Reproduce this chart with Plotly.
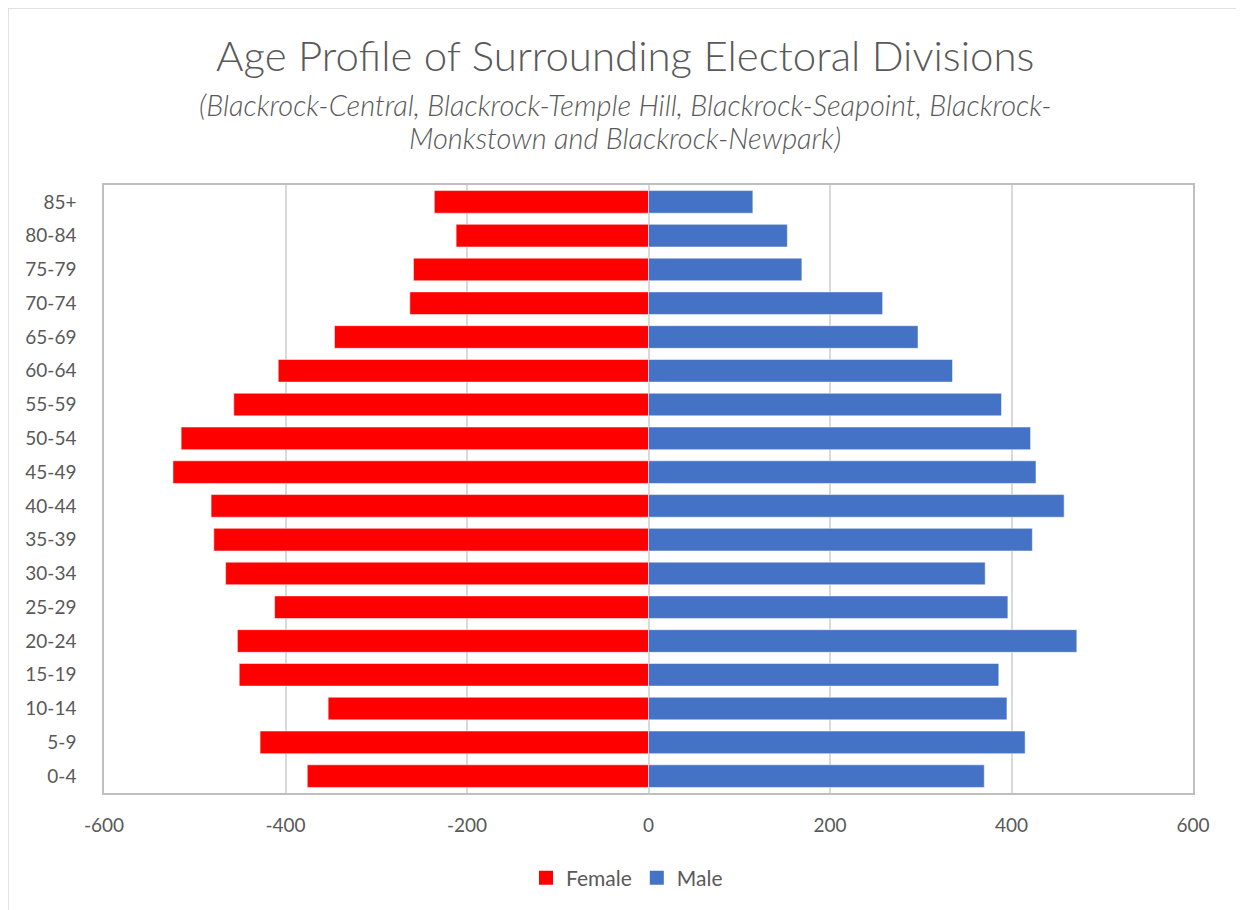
import plotly.graph_objects as go

age_groups = ["0-4", "5-9", "10-14", "15-19", "20-24", "25-29", "30-34", "35-39",
              "40-44", "45-49", "50-54", "55-59", "60-64", "65-69", "70-74",
              "75-79", "80-84", "85+"]
female = [376, 428, 353, 451, 453, 412, 466, 479, 482, 524, 515, 457, 408, 346,
          263, 259, 212, 236]
male = [370, 415, 395, 386, 472, 396, 371, 423, 458, 427, 421, 389, 335, 297,
        258, 169, 153, 115]
x_ticks = [-600, -400, -200, 0, 200, 400, 600]

FONT = "Lato"
GREY = "#595959"
RED = "#FF0000"
BLUE = "#4472C4"

OFF = 8  # page body margin
W, H = 1236, 902
pl, pr, pt, pb = 104 - OFF, 1193 - OFF, 185 - OFF, 793 - OFF
pw, ph = pr - pl, pb - pt


def px_x(x):
    return (x - OFF - pl) / pw


def px_y(y):
    return (pb - (y - OFF)) / ph


fig = go.Figure()
fig.add_trace(go.Bar(
    y=age_groups, x=[-v for v in female], name="Female", orientation="h",
    marker=dict(color=RED, line=dict(color="rgba(255,255,255,0.5)", width=1)),
    showlegend=False,
))
fig.add_trace(go.Bar(
    y=age_groups, x=male, name="Male", orientation="h",
    marker=dict(color=BLUE, line=dict(color="rgba(255,255,255,0.5)", width=1)),
    showlegend=False,
))
# legend entries
for nm, col in [("Female", RED), ("Male", BLUE)]:
    fig.add_trace(go.Scatter(x=[None], y=[None], mode="markers", name=nm,
                             marker=dict(symbol="square", size=14, color=col),
                             showlegend=True))

fig.update_layout(
    width=W, height=H,
    margin=dict(l=pl, r=W - pr, t=pt, b=H - pb, autoexpand=False),
    paper_bgcolor="white", plot_bgcolor="white",
    barmode="overlay", bargap=0.33,
    font=dict(family=FONT, color=GREY, size=18),
    showlegend=True,
    legend=dict(orientation="h", x=px_x(627), xanchor="center", y=px_y(878), yanchor="middle",
                font=dict(size=21, color=GREY), itemsizing="trace",
                traceorder="normal", tracegroupgap=0),
    xaxis=dict(range=[-600, 600], tickvals=x_ticks, ticktext=[str(v) for v in x_ticks],
               showgrid=True, gridcolor="#D9D9D9", gridwidth=1.5,
               zeroline=True, zerolinecolor="#D9D9D9", zerolinewidth=1.5,
               showline=True, linecolor="#BFBFBF", linewidth=1.5, mirror=True,
               ticks="", tickfont=dict(size=19, color=GREY), ticklabelstandoff=14),
    yaxis=dict(categoryorder="array", categoryarray=age_groups,
               showgrid=False, zeroline=False,
               showline=True, linecolor="#BFBFBF", linewidth=1.5, mirror=True,
               ticks="", tickfont=dict(size=19, color=GREY), ticklabelstandoff=22),
)

fig.add_annotation(text="Age Profile of Surrounding Electoral Divisions",
                   xref="paper", yref="paper", x=px_x(625), y=px_y(55),
                   xanchor="center", yanchor="middle", showarrow=False,
                   font=dict(family=FONT, size=42, color=GREY, weight=300))
fig.add_annotation(text="<i>(Blackrock-Central, Blackrock-Temple Hill, Blackrock-Seapoint, Blackrock-</i>",
                   xref="paper", yref="paper", x=px_x(625), y=px_y(104),
                   xanchor="center", yanchor="middle", showarrow=False,
                   font=dict(family=FONT, size=29, color=GREY, weight=300))
fig.add_annotation(text="<i>Monkstown and Blackrock-Newpark)</i>",
                   xref="paper", yref="paper", x=px_x(625), y=px_y(137),
                   xanchor="center", yanchor="middle", showarrow=False,
                   font=dict(family=FONT, size=29, color=GREY, weight=300))

# chart-area border
fig.add_shape(type="rect", xref="paper", yref="paper",
              x0=px_x(8), x1=px_x(1240),
              y0=px_y(940), y1=px_y(8), line=dict(color="#D9D9D9", width=1.5),
              fillcolor="rgba(0,0,0,0)", layer="below")

fig.write_html("out.html")
